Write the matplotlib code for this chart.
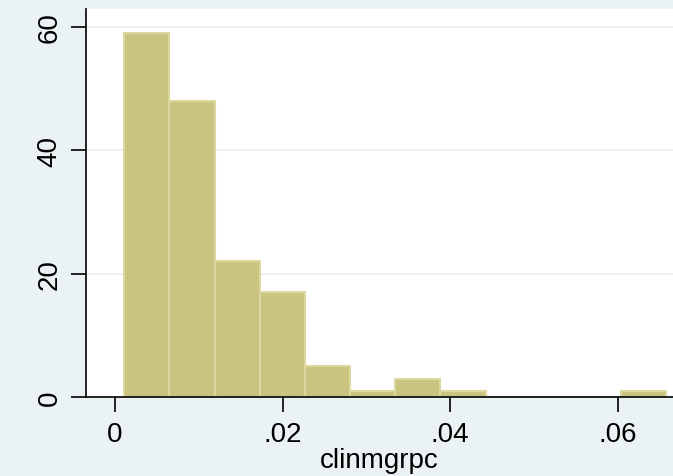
import numpy as np
import matplotlib
matplotlib.use("Agg")
import matplotlib.pyplot as plt

plt.rcParams['font.family'] = ['Liberation Sans', 'DejaVu Sans']

# histogram: 12 bins from ~0.0011 to ~0.0658
bin_start = 0.00111
bin_end = 0.0658
counts = [59, 48, 22, 17, 5, 1, 3, 1, 0, 0, 0, 1]
x_ticks = [0, 0.02, 0.04, 0.06]
x_ticklabels = ['0', '.02', '.04', '.06']
y_ticks = [0, 20, 40, 60]

edges = np.linspace(bin_start, bin_end, len(counts) + 1)

bg = '#eaf2f3'
fig = plt.figure(figsize=(6.73, 4.77), dpi=100, facecolor=bg)
ax = fig.add_axes([0.1278, 0.1656, 0.8722, 0.8134])
ax.set_facecolor('white')

for y in y_ticks[1:]:
    ax.axhline(y, color=bg, lw=1.5, zorder=0)

ax.bar(edges[:-1], counts, width=np.diff(edges), align='edge',
       color='#c9c47f', edgecolor='#dcd8a0', linewidth=1.5, zorder=2)

ax.set_xlim(-0.00346, 0.0666)
ax.set_ylim(0, 62.9)
ax.set_xticks(x_ticks)
ax.set_xticklabels(x_ticklabels)
ax.set_yticks(y_ticks)
ax.set_yticklabels([str(v) for v in y_ticks], rotation=90, va='center')
ax.tick_params(axis='both', labelsize=20, length=11, width=1.2, color='black')
ax.tick_params(axis='x', pad=6)
ax.tick_params(axis='y', pad=6)
ax.set_xlabel('clinmgrpc', fontsize=20, labelpad=0)

for side in ['top', 'right']:
    ax.spines[side].set_visible(False)
for side in ['left', 'bottom']:
    ax.spines[side].set_linewidth(1.2)

fig.savefig('out.png', dpi=100, facecolor=bg)
